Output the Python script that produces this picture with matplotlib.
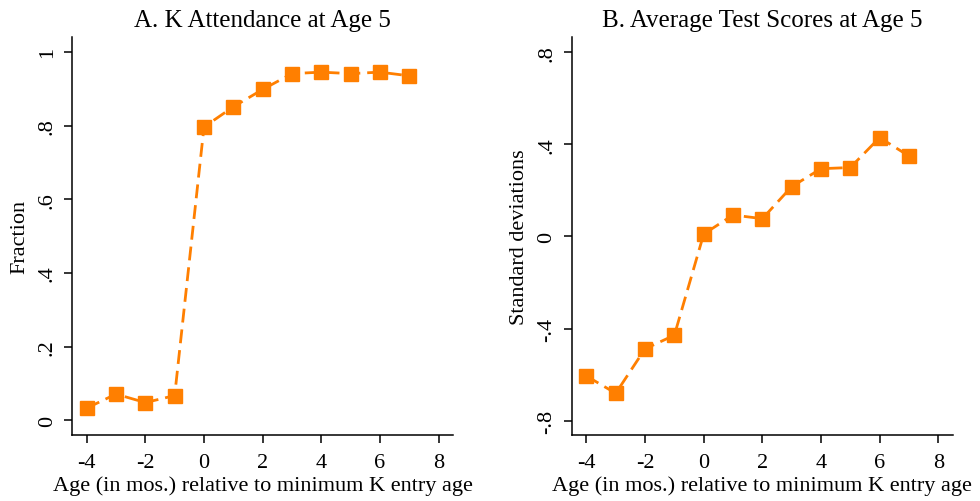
import matplotlib
matplotlib.use("Agg")
import matplotlib.pyplot as plt

# Data
months = [-4, -3, -2, -1, 0, 1, 2, 3, 4, 5, 6, 7]
k_attendance = [0.033, 0.071, 0.048, 0.067, 0.796, 0.851, 0.898, 0.941, 0.945, 0.941, 0.945, 0.935]
test_scores = [-0.606, -0.681, -0.488, -0.429, 0.010, 0.093, 0.077, 0.216, 0.294, 0.299, 0.429, 0.349]

x_ticks = [-4, -2, 0, 2, 4, 6, 8]
x_ticklabels = ["-4", "-2", "0", "2", "4", "6", "8"]
yA_ticks = [0, 0.2, 0.4, 0.6, 0.8, 1.0]
yA_ticklabels = ["0", ".2", ".4", ".6", ".8", "1"]
yB_ticks = [-0.8, -0.4, 0, 0.4, 0.8]
yB_ticklabels = ["-.8", "-.4", "0", ".4", ".8"]

titles = ["A. K Attendance at Age 5", "B. Average Test Scores at Age 5"]
ylabels = ["Fraction", "Standard deviations"]
xlabel = "Age (in mos.) relative to minimum K entry age"

plt.rcParams['font.family'] = ['Liberation Serif', 'DejaVu Serif']
color = '#FF7F00'

fig = plt.figure(figsize=(9.8, 5.02), dpi=100)
axA = fig.add_axes([0.0735, 0.1315, 0.389, 0.7925])
axB = fig.add_axes([0.5834, 0.1315, 0.389, 0.7925])

specs = [
    (axA, k_attendance, yA_ticks, yA_ticklabels, (-0.04, 1.04)),
    (axB, test_scores, yB_ticks, yB_ticklabels, (-0.862, 0.865)),
]
for i, (ax, vals, yt, ytl, ylim) in enumerate(specs):
    ax.plot(months, vals, color=color, linestyle=(0, (5, 2.5)), linewidth=2,
            marker='s', markersize=9.5, markerfacecolor=color, markeredgecolor=color)
    ax.set_xlim(-4.5, 8.5)
    ax.set_ylim(*ylim)
    ax.set_xticks(x_ticks)
    ax.set_xticklabels(x_ticklabels)
    ax.set_yticks(yt)
    ax.set_yticklabels(ytl, rotation=90, va='center')
    ax.spines['top'].set_visible(False)
    ax.spines['right'].set_visible(False)
    for s in ['left', 'bottom']:
        ax.spines[s].set_linewidth(1.1)
    ax.tick_params(axis='both', direction='out', length=6, width=1.1, labelsize=16)
    ax.tick_params(axis='x', pad=7)
    ax.tick_params(axis='y', pad=5)
    ax.set_title(titles[i], fontsize=18, pad=8)
    ax.set_xlabel(xlabel, fontsize=16, labelpad=2.5)
    ax.set_ylabel(ylabels[i], fontsize=16, labelpad=6)

fig.savefig("out.png", dpi=100)
